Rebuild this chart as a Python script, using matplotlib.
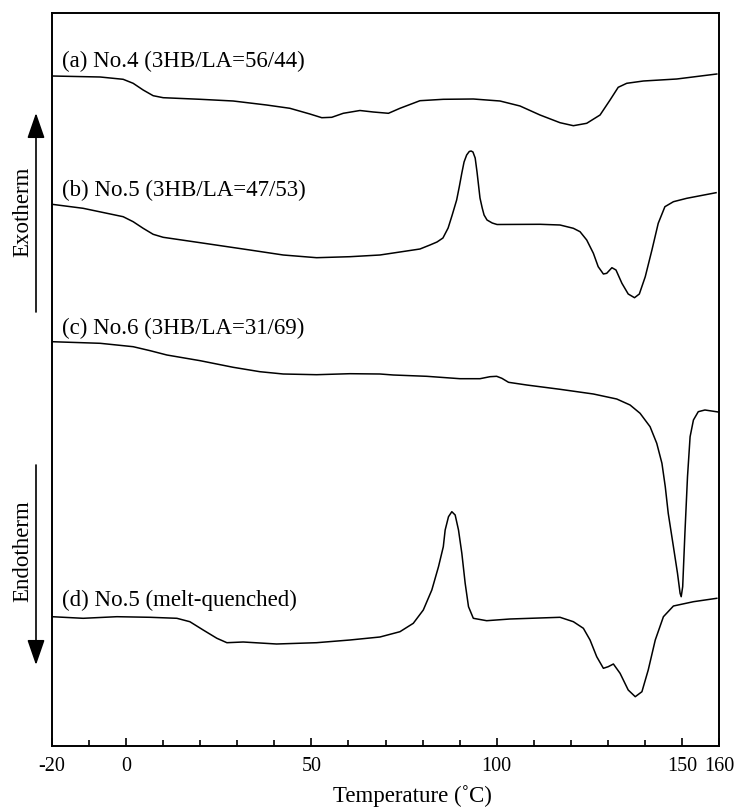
"""DSC heating curves of 3HB/LA copolymers (Exotherm up)."""
import matplotlib.pyplot as plt
from matplotlib.ticker import MultipleLocator, FixedLocator

plt.rcParams['font.family'] = ['Liberation Serif', 'DejaVu Serif']
plt.rcParams['axes.unicode_minus'] = False

# temperature (C) and heat flow (arbitrary units, offset per curve)
temp_a = [-20, -7.0, -0.8, 1.9, 4.6, 7.3, 10.0, 20.0, 28.9, 37.9, 44.2, 49.6,
          52.8, 55.5, 58.6, 63.1, 66.7, 70.8, 73.9, 79.3, 85.6, 93.7, 100.9,
          106.3, 111.7, 117.1, 120.7, 124.3, 127.9, 130.6, 132.8, 135.1, 139.6,
          148.6, 159.4]
flow_a = [670, 669, 666.7, 662.7, 656, 650.3, 648.3, 646.7, 645, 641, 637.7, 632,
          628.3, 628.7, 632.7, 635.5, 634, 632.7, 637.7, 645.3, 646.7, 647, 645,
          640, 631, 623.3, 620.3, 622.7, 631, 646, 658.7, 662.7, 665,
          667, 672]

temp_b = [-20, -11.6, -0.8, 1.9, 4.6, 7.3, 10.0, 20.0, 33.4, 42.4, 51.4, 60.4,
          68.5, 73.9, 79.3, 82.0, 83.9, 85.5, 86.9, 88.0, 89.2, 89.9, 90.6, 91.2,
          91.9, 92.6, 93.1, 93.6, 94.2, 94.7, 95.1, 95.5, 96.1, 96.6, 97.4, 98.8,
          100.1, 111.7, 117.1, 120.7, 122.5, 124.3, 126.1, 127.4, 128.8, 129.7,
          131.1, 132.2, 133.8, 135.5, 137.2, 138.5, 140.1, 141.9, 143.6, 145.4,
          147.7, 151.3, 159.2]
flow_b = [541.7, 537.7, 529.3, 524.3, 517.7, 511.7, 508.7, 503.3, 496, 491, 488.3, 489.3,
          491, 494, 497, 501, 504, 508, 518, 531, 546, 559, 573, 584,
          591, 594.5, 595, 594, 588, 574, 561, 548, 538, 531, 526, 523,
          521.5, 521.7, 521, 517.7, 514.3, 506, 492.7, 479.3, 472, 472.7,
          478.3, 476, 462.7, 452, 448.3, 452, 469.3, 496, 522.7, 539.3,
          544.3, 547.7, 553.3]

temp_c = [-20, -7.0, 1.9, 6.5, 11.0, 20.0, 28.9, 36.1, 42.4, 51.4, 60.4, 68.5,
          72.1, 81.1, 90.1, 95.5, 98.2, 100.0, 101.4, 103.2, 108.1, 117.1, 126.1,
          132.4, 136.0, 138.7, 141.4, 143.2, 144.6, 145.5, 146.3, 147.7, 148.8,
          149.5, 149.8, 150.2, 150.8, 151.5, 152.2, 153.1, 154.4, 156.2, 159.8]
flow_c = [404.3, 402.7, 399.3, 395.3, 391, 385.3, 378.7, 374.3, 372, 371.3, 372.3, 372,
          371, 369.7, 367.3, 367.3, 369.3, 369.7, 367.7, 363.7, 361, 356.7, 352,
          347, 341, 332.7, 319.3, 302.7, 282.7, 259.3, 232.7, 199.3, 172.7,
          152.7, 149.3, 159.3, 212.7, 269.3, 309.3, 326, 334.3, 336, 334]

temp_d = [-20, -11.6, -2.5, 6.5, 13.7, 17.2, 20.8, 24.5, 27.2, 31.6, 40.6, 51.4,
          60.4, 68.5, 73.9, 77.5, 80.2, 82.5, 84.3, 85.6, 86.1, 87.0, 87.9, 88.8,
          89.7, 90.6, 91.5, 92.4, 93.7, 97.3, 103.6, 117.1, 120.7, 123.4, 125.2,
          127.0, 128.8, 130.1, 131.5, 133.3, 135.5, 137.4, 139.2, 140.9, 142.8,
          145.0, 147.7, 153.1, 159.4]
flow_d = [129.3, 127.7, 129.3, 128.7, 127.7, 124.3, 116, 107.7, 103.3, 104, 102, 103.3,
          106, 109, 114.3, 122.7, 136, 156, 179.3, 199.3, 216, 229.3, 234.3, 231,
          216, 192.7, 162.7, 139.3, 127.7, 125.3, 127, 128.7, 124.3, 117.7, 106,
          89.3, 77.7, 79.3, 82, 72.7, 56, 49.3, 54.3, 76, 106,
          129.3, 140, 144.3, 147.7]

curve_labels = ["(a) No.4 (3HB/LA=56/44)", "(b) No.5 (3HB/LA=47/53)",
                "(c) No.6 (3HB/LA=31/69)", "(d) No.5 (melt-quenched)"]
label_y = [685, 556, 418, 146]

major_ticks = [-20, 0, 50, 100, 150, 160]

W, H = 738, 807
fig = plt.figure(figsize=(W / 100, H / 100), dpi=100)
ax = fig.add_axes([52 / W, 1 - 746 / H, (719 - 52) / W, (746 - 13) / H])

for t, f in [(temp_a, flow_a), (temp_b, flow_b), (temp_c, flow_c), (temp_d, flow_d)]:
    ax.plot(t, f, color='black', lw=1.1, solid_joinstyle='round')

for lab, y in zip(curve_labels, label_y):
    ax.text(-17.3, y, lab, fontsize=16.5, va='center', ha='left')

ax.set_xlim(-20, 160)
ax.set_ylim(0, 733)
ax.xaxis.set_major_locator(FixedLocator(major_ticks))
ax.xaxis.set_minor_locator(MultipleLocator(10))
ax.tick_params(axis='x', which='both', direction='in', top=False, labelsize=14.5, pad=8)
ax.tick_params(axis='x', which='major', length=6, width=1.2)
ax.tick_params(axis='x', which='minor', length=4.5, width=1.2)
ax.set_yticks([])
for s in ax.spines.values():
    s.set_linewidth(1.4)

fig.text(412 / W, 1 - 796 / H, "Temperature (˚C)", fontsize=16.5, ha='center', va='center')

# exotherm / endotherm arrows
def px(x, y):
    return (x / W, 1 - y / H)

arrow = dict(arrowstyle='-|>,head_length=1.3,head_width=0.45', color='black', lw=1.2,
             shrinkA=0, shrinkB=0, mutation_scale=12)
fig.add_artist(plt.Annotation('', xy=px(36, 113), xytext=px(36, 312),
                              xycoords='figure fraction', textcoords='figure fraction',
                              arrowprops=arrow))
fig.add_artist(plt.Annotation('', xy=px(36, 665), xytext=px(36, 465),
                              xycoords='figure fraction', textcoords='figure fraction',
                              arrowprops=arrow))
fig.text(*px(23, 212), "Exotherm", rotation=90, fontsize=16.5, ha='center', va='center')
fig.text(*px(23, 551), "Endotherm", rotation=90, fontsize=16.5, ha='center', va='center')

fig.savefig("out.png", dpi=100)
